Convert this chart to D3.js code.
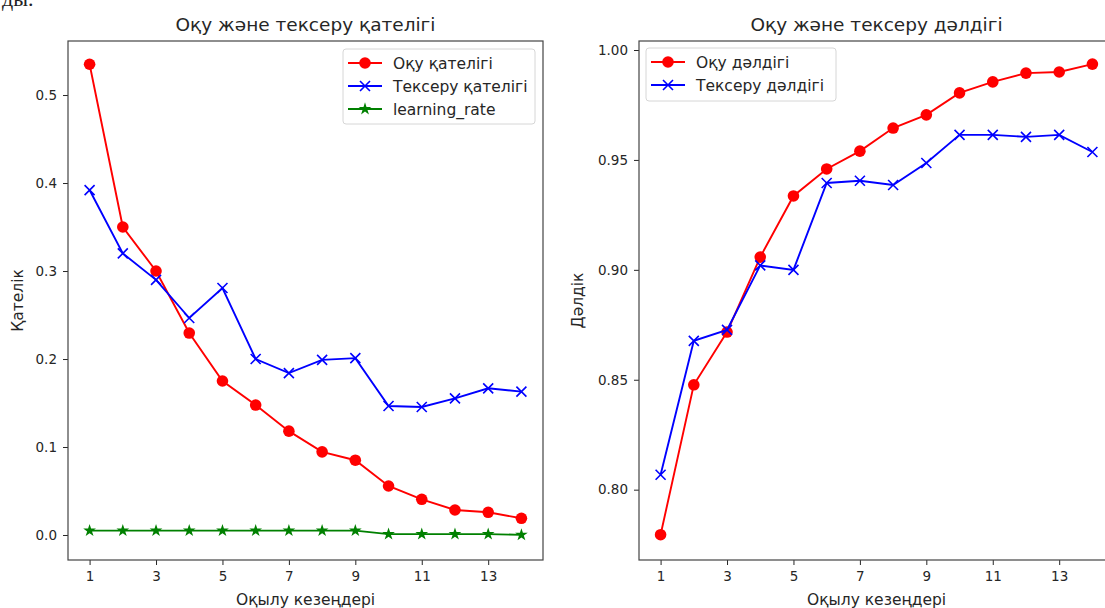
<!DOCTYPE html>
<html>
<head>
<meta charset="utf-8">
<script src="https://cdn.jsdelivr.net/npm/d3@7"></script>
<style>
  html, body { margin: 0; padding: 0; background: #fff; }
  svg { display: block; font-family: "DejaVu Sans", sans-serif; }
</style>
</head>
<body>
<svg id="chart" width="1105" height="608"></svg>
<script>
// ---- data ----
const epochs = [1,2,3,4,5,6,7,8,9,10,11,12,13,14];
const xTicks = [1,3,5,7,9,11,13];

const trainLoss = [0.535,0.350,0.300,0.2295,0.175,0.1477,0.118,0.0945,0.085,0.0557,0.0406,0.0284,0.0258,0.019];
const valLoss   = [0.392,0.320,0.290,0.2466,0.2807,0.200,0.184,0.199,0.201,0.1466,0.1455,0.1553,0.1667,0.1630];
const learningRate = [0.005,0.005,0.005,0.005,0.005,0.005,0.005,0.005,0.005,0.001,0.001,0.001,0.001,0.0002];

const trainAcc = [0.7795,0.8477,0.8717,0.9058,0.9336,0.9459,0.954,0.9645,0.9705,0.9805,0.9855,0.9895,0.990,0.9936];
const valAcc   = [0.8068,0.8677,0.8727,0.9020,0.900,0.9395,0.9405,0.9386,0.9486,0.9614,0.9614,0.9605,0.9614,0.9536];

const lossTicks = [0.0,0.1,0.2,0.3,0.4,0.5];
const accTicks  = [0.80,0.85,0.90,0.95,1.00];

const titles = ["Оқу және тексеру қателігі", "Оқу және тексеру дәлдігі"];
const xLabel = "Оқылу кезеңдері";
const yLabels = ["Қателік", "Дәлдік"];
const lossNames = ["Оқу қателігі", "Тексеру қателігі", "learning_rate"];
const accNames = ["Оқу дәлдігі", "Тексеру дәлдігі"];

// ---- drawing ----
const svg = d3.select("#chart");
const textColor = "#262626";

// partial text cut at top-left (from surrounding document)
svg.append("text").attr("x", 2).attr("y", 6)
  .attr("font-family", "Liberation Serif, DejaVu Serif, serif")
  .attr("font-size", 22).attr("fill", "#222").text("ды.");

function star(size) {
  return d3.symbol().type(d3.symbolStar).size(size)();
}

function marker(g, type, color, x, y) {
  if (type === "o") {
    g.append("circle").attr("cx", x).attr("cy", y).attr("r", 5.8).attr("fill", color);
  } else if (type === "x") {
    const s = 5;
    g.append("path").attr("d", `M${x-s},${y-s}L${x+s},${y+s}M${x-s},${y+s}L${x+s},${y-s}`)
      .attr("stroke", color).attr("stroke-width", 1.6).attr("fill", "none");
  } else if (type === "*") {
    g.append("path").attr("d", star(50)).attr("transform", `translate(${x},${y})`)
      .attr("fill", color);
  }
}

function panel(opts) {
  const {x0, x1, y0, y1, xDomain, yDomain, yTicks, yFmt, series, title, ylab, ylabX, legend, id} = opts;
  const xs = d3.scaleLinear().domain(xDomain).range([x0, x1]);
  const ys = d3.scaleLinear().domain(yDomain).range([y1, y0]);
  const g = svg.append("g");

  svg.append("clipPath").attr("id", id).append("rect")
    .attr("x", x0).attr("y", y0).attr("width", x1 - x0).attr("height", y1 - y0);

  const plot = g.append("g").attr("clip-path", `url(#${id})`);
  const line = d3.line().x((d, i) => xs(epochs[i])).y(d => ys(d));
  series.forEach(s => {
    plot.append("path").datum(s.values).attr("d", line)
      .attr("fill", "none").attr("stroke", s.color).attr("stroke-width", 1.9);
    s.values.forEach((v, i) => marker(plot, s.marker, s.color, xs(epochs[i]), ys(v)));
  });

  // axes
  const xAxis = d3.axisBottom(xs).tickValues(xTicks).tickSize(5).tickPadding(6).tickFormat(d3.format("d"));
  const yAxis = d3.axisLeft(ys).tickValues(yTicks).tickSize(5).tickPadding(6).tickFormat(yFmt);
  const gx = g.append("g").attr("transform", `translate(0,${y1})`).call(xAxis);
  const gy = g.append("g").attr("transform", `translate(${x0},0)`).call(yAxis);
  [gx, gy].forEach(a => {
    a.select(".domain").remove();
    a.selectAll(".tick line").attr("stroke", textColor).attr("stroke-width", 1);
    a.selectAll(".tick text").attr("fill", textColor).attr("font-size", 13.5)
      .attr("font-family", "DejaVu Sans, sans-serif");
  });

  // frame
  g.append("rect").attr("x", x0).attr("y", y0).attr("width", x1 - x0).attr("height", y1 - y0)
    .attr("fill", "none").attr("stroke", "#444").attr("stroke-width", 1.2);

  // titles & labels
  g.append("text").attr("x", (x0 + x1) / 2).attr("y", 31).attr("text-anchor", "middle")
    .attr("font-size", 18.5).attr("fill", textColor).text(title);
  g.append("text").attr("x", (x0 + x1) / 2).attr("y", 605).attr("text-anchor", "middle")
    .attr("font-size", 15.5).attr("fill", textColor).text(xLabel);
  g.append("text").attr("transform", `translate(${ylabX},${(y0 + y1) / 2}) rotate(-90)`)
    .attr("text-anchor", "middle").attr("font-size", 15.5).attr("fill", textColor).text(ylab);

  // legend
  const L = legend;
  const lg = g.append("g");
  lg.append("rect").attr("x", L.x).attr("y", L.y).attr("width", L.w).attr("height", L.h)
    .attr("rx", 3).attr("fill", "#fff").attr("fill-opacity", 0.85)
    .attr("stroke", "#d6d6d6").attr("stroke-width", 1);
  series.forEach((s, i) => {
    const yy = L.y + 14 + i * 23;
    lg.append("line").attr("x1", L.x + 5).attr("x2", L.x + 39).attr("y1", yy).attr("y2", yy)
      .attr("stroke", s.color).attr("stroke-width", 1.9);
    marker(lg, s.marker, s.color, L.x + 22, yy);
    lg.append("text").attr("x", L.x + 50).attr("y", yy + 5.5).attr("font-size", 15.5)
      .attr("fill", textColor).text(s.name);
  });
}

panel({
  id: "clipL", x0: 68, x1: 543, y0: 41, y1: 560,
  xDomain: [0.35, 14.65], yDomain: [-0.0284, 0.5614],
  yTicks: lossTicks, yFmt: d3.format(".1f"),
  title: titles[0], ylab: yLabels[0], ylabX: 23,
  series: [
    {name: lossNames[0], values: trainLoss, color: "#ff0000", marker: "o"},
    {name: lossNames[1], values: valLoss, color: "#0000ff", marker: "x"},
    {name: lossNames[2], values: learningRate, color: "#008000", marker: "*"}
  ],
  legend: {x: 343, y: 49, w: 192, h: 75}
});

panel({
  id: "clipR", x0: 639, x1: 1114, y0: 41, y1: 560,
  xDomain: [0.35, 14.65], yDomain: [0.768, 1.0041],
  yTicks: accTicks, yFmt: d3.format(".2f"),
  title: titles[1], ylab: yLabels[1], ylabX: 583,
  series: [
    {name: accNames[0], values: trainAcc, color: "#ff0000", marker: "o"},
    {name: accNames[1], values: valAcc, color: "#0000ff", marker: "x"}
  ],
  legend: {x: 646, y: 48, w: 190, h: 53}
});
</script>
</body>
</html>
